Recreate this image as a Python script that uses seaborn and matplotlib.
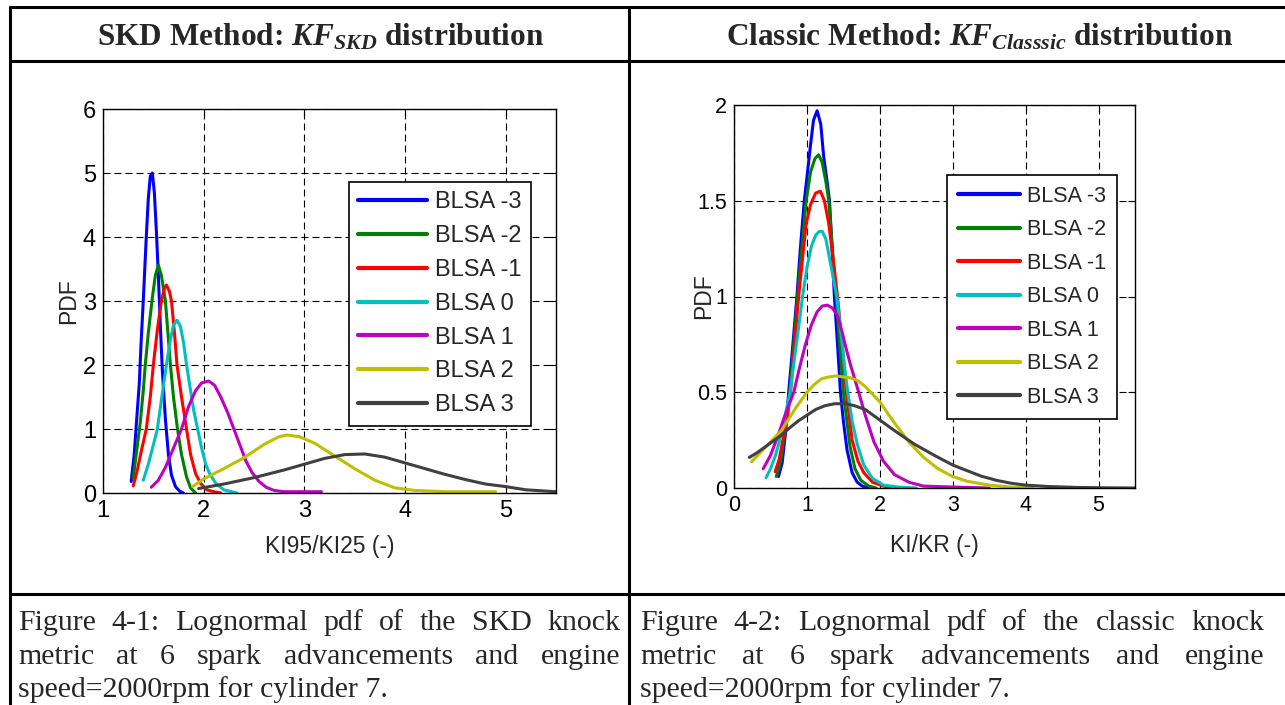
import matplotlib
matplotlib.use("Agg")
import matplotlib.pyplot as plt
import seaborn as sns
from matplotlib.lines import Line2D

# ---- data ----
labels = ["BLSA -3", "BLSA -2", "BLSA -1", "BLSA 0", "BLSA 1", "BLSA 2", "BLSA 3"]
colors = ["#0000ff", "#008000", "#ff0000", "#00bfbf", "#bf00bf", "#bfbf00", "#404040"]

# SKD method: KI95/KI25
skd_m3_x = [1.28, 1.31, 1.33, 1.36, 1.38, 1.40, 1.43, 1.45, 1.47, 1.49, 1.51, 1.53, 1.55, 1.57, 1.59, 1.62, 1.65, 1.68, 1.72, 1.76, 1.80]
skd_m3_y = [0.18, 0.6, 1.05, 1.7, 2.4, 3.0, 4.0, 4.6, 4.95, 5.0, 4.7, 4.1, 3.4, 2.6, 1.9, 1.15, 0.6, 0.28, 0.1, 0.03, 0.0]
skd_m2_x = [1.30, 1.33, 1.37, 1.40, 1.42, 1.45, 1.49, 1.52, 1.55, 1.58, 1.62, 1.65, 1.67, 1.70, 1.74, 1.78, 1.83, 1.87, 1.92]
skd_m2_y = [0.23, 0.6, 1.1, 1.6, 2.0, 2.5, 3.05, 3.4, 3.56, 3.4, 3.0, 2.4, 2.0, 1.5, 1.0, 0.6, 0.25, 0.08, 0.0]
skd_m1_x = [1.30, 1.34, 1.38, 1.43, 1.47, 1.50, 1.54, 1.58, 1.61, 1.63, 1.66, 1.68, 1.71, 1.735, 1.78, 1.83, 1.87, 1.92, 1.97, 2.03, 2.10, 2.17]
skd_m1_y = [0.11, 0.35, 0.65, 1.0, 1.5, 2.0, 2.55, 3.0, 3.2, 3.25, 3.15, 3.0, 2.5, 2.0, 1.5, 1.0, 0.6, 0.3, 0.15, 0.05, 0.02, 0.0]
skd_0_x = [1.40, 1.45, 1.50, 1.54, 1.58, 1.63, 1.67, 1.70, 1.735, 1.77, 1.80, 1.83, 1.87, 1.90, 1.94, 1.98, 2.02, 2.06, 2.12, 2.20, 2.33]
skd_0_y = [0.2, 0.45, 0.75, 1.0, 1.45, 2.0, 2.4, 2.62, 2.70, 2.6, 2.35, 2.0, 1.6, 1.3, 1.0, 0.7, 0.45, 0.3, 0.15, 0.05, 0.0]
skd_1_x = [1.48, 1.55, 1.62, 1.70, 1.78, 1.85, 1.92, 1.98, 2.05, 2.11, 2.17, 2.24, 2.30, 2.36, 2.42, 2.48, 2.55, 2.62, 2.70, 2.80, 3.00, 3.17]
skd_1_y = [0.09, 0.2, 0.4, 0.7, 1.0, 1.35, 1.6, 1.72, 1.75, 1.68, 1.5, 1.25, 1.0, 0.75, 0.5, 0.32, 0.18, 0.09, 0.04, 0.02, 0.02, 0.02]
skd_2_x = [1.89, 2.0, 2.2, 2.4, 2.6, 2.75, 2.83, 2.95, 3.1, 3.3, 3.5, 3.7, 3.9, 4.1, 4.4, 4.9]
skd_2_y = [0.10, 0.22, 0.38, 0.55, 0.76, 0.88, 0.906, 0.88, 0.78, 0.58, 0.38, 0.2, 0.08, 0.04, 0.02, 0.02]
skd_3_x = [1.95, 2.2, 2.5, 2.8, 3.0, 3.2, 3.4, 3.6, 3.8, 4.0, 4.2, 4.4, 4.6, 4.8, 5.0, 5.2, 5.5]
skd_3_y = [0.07, 0.14, 0.24, 0.36, 0.45, 0.54, 0.60, 0.61, 0.56, 0.47, 0.38, 0.29, 0.21, 0.14, 0.10, 0.05, 0.02]

# Classic method: KI/KR
cls_m3_x = [0.61, 0.66, 0.71, 0.75, 0.81, 0.863, 0.91, 0.964, 1.00, 1.046, 1.09, 1.14, 1.19, 1.23, 1.27, 1.31, 1.345, 1.377, 1.42, 1.46, 1.50, 1.55, 1.62, 1.69, 1.76, 1.85]
cls_m3_y = [0.06, 0.13, 0.3, 0.5, 0.76, 1.0, 1.25, 1.5, 1.62, 1.78, 1.92, 1.97, 1.9, 1.73, 1.62, 1.5, 1.25, 1.0, 0.75, 0.5, 0.35, 0.2, 0.08, 0.03, 0.01, 0.0]
cls_m2_x = [0.58, 0.64, 0.70, 0.765, 0.82, 0.872, 0.93, 0.99, 1.05, 1.11, 1.16, 1.21, 1.26, 1.30, 1.35, 1.40, 1.45, 1.50, 1.59, 1.66, 1.74, 1.85, 1.95]
cls_m2_y = [0.06, 0.14, 0.3, 0.5, 0.75, 1.0, 1.25, 1.5, 1.65, 1.72, 1.74, 1.7, 1.6, 1.5, 1.25, 1.0, 0.75, 0.5, 0.22, 0.1, 0.04, 0.01, 0.0]
cls_m1_x = [0.565, 0.62, 0.68, 0.73, 0.78, 0.83, 0.887, 0.94, 0.99, 1.05, 1.12, 1.185, 1.24, 1.30, 1.355, 1.42, 1.50, 1.54, 1.62, 1.70, 1.78, 1.90, 2.05, 2.15]
cls_m1_y = [0.085, 0.15, 0.27, 0.36, 0.52, 0.75, 1.0, 1.2, 1.38, 1.48, 1.54, 1.55, 1.50, 1.38, 1.21, 1.0, 0.68, 0.5, 0.25, 0.14, 0.08, 0.03, 0.01, 0.0]
cls_0_x = [0.44, 0.50, 0.56, 0.62, 0.68, 0.73, 0.77, 0.82, 0.88, 0.94, 1.00, 1.06, 1.12, 1.17, 1.21, 1.26, 1.31, 1.36, 1.41, 1.47, 1.52, 1.56, 1.62, 1.69, 1.78, 1.90, 2.05, 2.25, 2.50]
cls_0_y = [0.054, 0.1, 0.16, 0.24, 0.34, 0.43, 0.5, 0.65, 0.82, 1.0, 1.15, 1.26, 1.32, 1.34, 1.34, 1.3, 1.2, 1.1, 1.0, 0.8, 0.62, 0.5, 0.35, 0.23, 0.12, 0.05, 0.015, 0.005, 0.0]
cls_1_x = [0.40, 0.50, 0.60, 0.70, 0.82, 0.90, 0.98, 1.06, 1.14, 1.21, 1.28, 1.35, 1.42, 1.48, 1.53, 1.60, 1.71, 1.80, 1.92, 2.05, 2.20, 2.40, 2.60, 3.00, 3.50]
cls_1_y = [0.10, 0.17, 0.27, 0.38, 0.5, 0.63, 0.75, 0.85, 0.92, 0.95, 0.955, 0.94, 0.9, 0.82, 0.74, 0.64, 0.5, 0.38, 0.24, 0.14, 0.07, 0.03, 0.01, 0.005, 0.0]
cls_2_x = [0.24, 0.35, 0.45, 0.55, 0.65, 0.75, 0.85, 1.0, 1.1, 1.2, 1.3, 1.4, 1.5, 1.6, 1.7, 1.8, 1.9, 2.0, 2.2, 2.4, 2.6, 2.8, 3.0, 3.2, 3.5, 3.8, 4.1]
cls_2_y = [0.137, 0.18, 0.22, 0.26, 0.3, 0.36, 0.42, 0.5, 0.54, 0.57, 0.58, 0.585, 0.58, 0.575, 0.56, 0.53, 0.49, 0.45, 0.34, 0.24, 0.16, 0.1, 0.06, 0.035, 0.015, 0.005, 0.0]
cls_3_x = [0.21, 0.30, 0.40, 0.50, 0.63, 0.75, 0.88, 1.0, 1.12, 1.25, 1.38, 1.53, 1.65, 1.80, 2.0, 2.2, 2.47, 2.75, 3.0, 3.2, 3.39, 3.6, 3.8, 4.0, 4.3, 4.7, 5.1, 5.5]
cls_3_y = [0.16, 0.18, 0.207, 0.235, 0.27, 0.31, 0.35, 0.38, 0.41, 0.43, 0.44, 0.44, 0.43, 0.41, 0.355, 0.30, 0.23, 0.17, 0.12, 0.09, 0.062, 0.04, 0.025, 0.015, 0.008, 0.003, 0.001, 0.0]

skd_series = [(skd_m3_x, skd_m3_y), (skd_m2_x, skd_m2_y), (skd_m1_x, skd_m1_y), (skd_0_x, skd_0_y),
              (skd_1_x, skd_1_y), (skd_2_x, skd_2_y), (skd_3_x, skd_3_y)]
cls_series = [(cls_m3_x, cls_m3_y), (cls_m2_x, cls_m2_y), (cls_m1_x, cls_m1_y), (cls_0_x, cls_0_y),
              (cls_1_x, cls_1_y), (cls_2_x, cls_2_y), (cls_3_x, cls_3_y)]

headers = [r"SKD Method: $\mathbfit{KF}_{\mathbfit{SKD}}$ distribution",
           r"Classic Method: $\mathbfit{KF}_{\mathbfit{Classsic}}$ distribution"]
captions = [["Figure 4-1: Lognormal pdf of the SKD knock",
             "metric at 6 spark advancements and engine",
             "speed=2000rpm for cylinder 7."],
            ["Figure 4-2: Lognormal pdf of the classic knock",
             "metric at 6 spark advancements and engine",
             "speed=2000rpm for cylinder 7."]]

# ---- style ----
sns.set_style("white")
plt.rcParams['font.family'] = ['Liberation Sans', 'DejaVu Sans']
plt.rcParams['mathtext.fontset'] = 'custom'
plt.rcParams['mathtext.rm'] = 'Liberation Serif'
plt.rcParams['mathtext.it'] = 'Liberation Serif:italic'
plt.rcParams['mathtext.bf'] = 'Liberation Serif:bold'
plt.rcParams['mathtext.bfit'] = 'Liberation Serif:italic:bold'

W, H = 1285, 705
fig = plt.figure(figsize=(W / 100, H / 100), dpi=100)


def px_box(x0, y0, x1, y1):
    return [x0 / W, 1 - y1 / H, (x1 - x0) / W, (y1 - y0) / H]


def draw_panel(ax, series, xlim, ylim, xticks, yticks, yticklabels, xlabel, anchor,
               fs, ls, hl, bp, ylab_x, xlab_y):
    for (xs, ys), lab, col in zip(series, labels, colors):
        sns.lineplot(x=xs, y=ys, ax=ax, color=col, lw=2.2, label=lab, sort=False, estimator=None)
    ax.set_xlim(*xlim)
    ax.set_ylim(*ylim)
    ax.set_xticks(xticks)
    ax.set_yticks(yticks)
    ax.set_yticklabels(yticklabels)
    ax.grid(True, color='black', linestyle=(0, (6.3, 3.6)), lw=0.8)
    ax.tick_params(direction='in', length=5, width=0.8, top=True, right=True,
                   labelsize=fs, colors='black', pad=5)
    for s in ax.spines.values():
        s.set_color('black')
        s.set_linewidth(1)
    ax.set_xlabel(xlabel, fontsize=16.5)
    ax.set_ylabel("PDF", fontsize=16.5)
    ax.yaxis.set_label_coords(ylab_x, 0.5)
    ax.xaxis.set_label_coords(0.5, xlab_y)
    leg = ax.legend(loc='upper right', bbox_to_anchor=anchor, borderaxespad=0, fontsize=fs,
                    frameon=True, fancybox=False, framealpha=1, edgecolor='black',
                    handlelength=hl, handletextpad=0.35, labelspacing=ls, borderpad=bp)
    leg.get_frame().set_linewidth(1.2)
    for h in leg.get_lines():
        h.set_linewidth(3)


ax1 = fig.add_axes(px_box(103, 109, 556, 493))
draw_panel(ax1, skd_series, (1, 5.5), (0, 6), [1, 2, 3, 4, 5], [0, 1, 2, 3, 4, 5, 6],
           ["0", "1", "2", "3", "4", "5", "6"], "KI95/KI25 (-)", (0.945, 0.81),
           17, 0.5, 2.9, 0.4, -0.05, -0.11)

ax2 = fig.add_axes(px_box(734, 105, 1135, 488))
draw_panel(ax2, cls_series, (0, 5.5), (0, 2), [0, 1, 2, 3, 4, 5], [0, 0.5, 1, 1.5, 2],
           ["0", "0.5", "1", "1.5", "2"], "KI/KR (-)", (0.955, 0.817),
           15.5, 0.58, 2.85, 0.5, -0.047, -0.12)

# ---- table frame ----
def hline(y, x0, x1):
    fig.add_artist(Line2D([x0 / W, x1 / W], [1 - y / H, 1 - y / H], transform=fig.transFigure,
                          color='black', lw=2.2, solid_capstyle='butt'))


def vline(x, y0, y1):
    fig.add_artist(Line2D([x / W, x / W], [1 - y0 / H, 1 - y1 / H], transform=fig.transFigure,
                          color='black', lw=2.2, solid_capstyle='butt'))


hline(7, 9, W)
hline(61, 9, W)
hline(594, 9, W)
vline(10, 6, H)
vline(629, 6, H)

# headers
fig.text(321 / W, 1 - 45 / H, headers[0], ha='center', va='baseline', fontsize=22.5,
         family='Liberation Serif', weight='bold')
fig.text(980 / W, 1 - 45 / H, headers[1], ha='center', va='baseline', fontsize=22.5,
         family='Liberation Serif', weight='bold')

# captions, justified like the source document
renderer = fig.canvas.get_renderer()


def justified_line(text, x0, x1, y, justify, size=21.5):
    if not justify:
        fig.text(x0 / W, 1 - y / H, text, ha='left', va='baseline', fontsize=size,
                 family='Liberation Serif')
        return
    words = text.split()
    arts = [fig.text(0, 1 - y / H, w, ha='left', va='baseline', fontsize=size,
                     family='Liberation Serif') for w in words]
    widths = [a.get_window_extent(renderer).width for a in arts]
    gap = (x1 - x0 - sum(widths)) / (len(words) - 1)
    x = x0
    for a, w in zip(arts, widths):
        a.set_x(x / W)
        x += w + gap


baselines = [630, 664, 697]
for cap, (x0, x1) in zip(captions, [(18, 620), (640, 1264)]):
    for i, line in enumerate(cap):
        justified_line(line, x0, x1, baselines[i], i < 2)

fig.savefig("out.png", dpi=100)
